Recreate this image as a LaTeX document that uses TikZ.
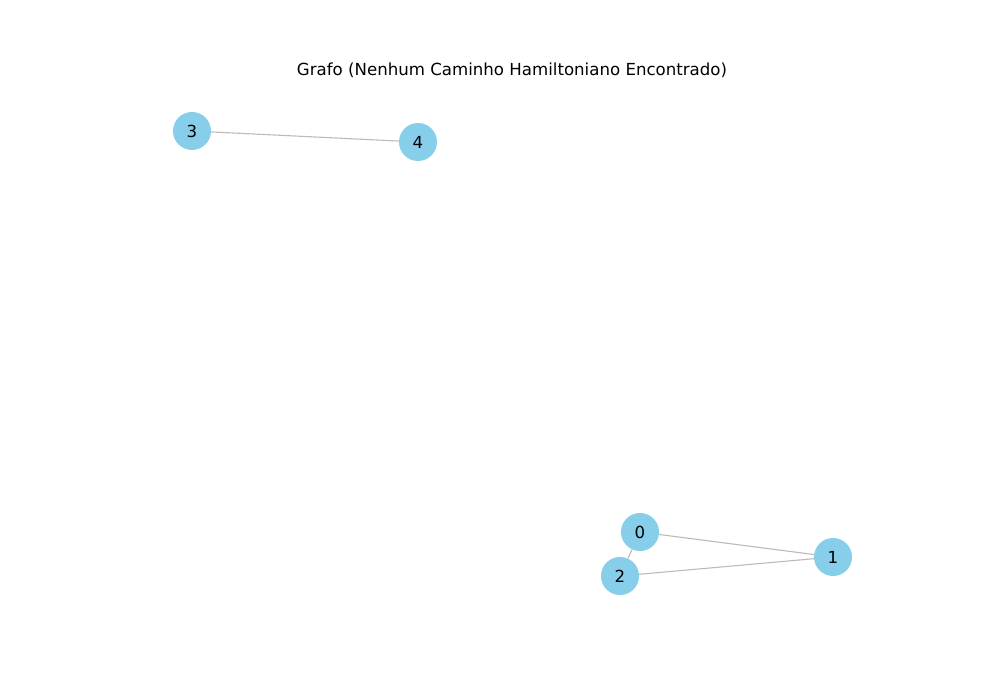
\documentclass[tikz,border=0pt]{standalone}
\usepackage{fontspec}
\setmainfont{DejaVu Sans}
\definecolor{skyblue}{HTML}{87CEEB}
\definecolor{edgegray}{HTML}{BBBBBB}
\begin{document}
\begin{tikzpicture}[x=0.01in,y=-0.01in,
  vtx/.style={circle,fill=skyblue,draw=none,minimum size=0.38in,inner sep=0pt,font=\fontsize{12}{14}\selectfont},
  edge/.style={draw=edgegray,line width=0.8pt}]
\useasboundingbox (0,0) rectangle (1000,700);
\node[font=\fontsize{12}{14}\selectfont] (title) at (512,70) {Grafo (Nenhum Caminho Hamiltoniano Encontrado)};
\node[vtx] (n3) at (192,131) {3};
\node[vtx] (n4) at (418,142) {4};
\node[vtx] (n0) at (640,532) {0};
\node[vtx] (n1) at (833,557) {1};
\node[vtx] (n2) at (620,576) {2};
\begin{scope}[on background layer/.style={}]
\end{scope}
\draw[edge] (n3) -- (n4);
\draw[edge] (n0) -- (n1);
\draw[edge] (n0) -- (n2);
\draw[edge] (n2) -- (n1);
\end{tikzpicture}
\end{document}
